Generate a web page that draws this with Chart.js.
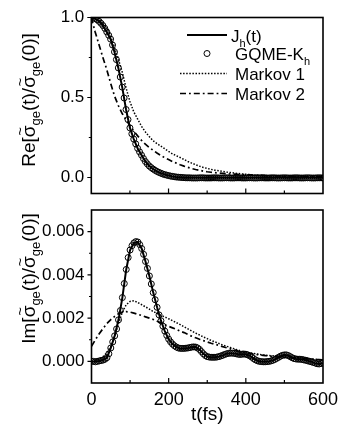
<!DOCTYPE html>
<html><head><meta charset="utf-8">
<script src="https://cdn.jsdelivr.net/npm/chart.js@4/dist/chart.umd.min.js"></script>
<style>
html,body{margin:0;padding:0;background:#fff;}
#top{position:absolute;left:0;top:0;width:339px;height:200px;}
#bot{position:absolute;left:0;top:200px;width:339px;height:227px;}
</style></head><body>
<div id="top"><canvas id="c1"></canvas></div>
<div id="bot"><canvas id="c2"></canvas></div>
<script>
// ---------- time grids (fs) ----------
const tLine = [0,10,20,30,40,50,60,70,80,90,100,110,120,130,140,150,160,170,180,190,200,
  210,220,230,240,250,260,270,280,290,300,310,320,330,340,350,360,370,380,390,400,
  410,420,430,440,450,460,470,480,490,500,510,520,530,540,550,560,570,580,590,600];
const tCirc = [0,5,10,15,20,25,30,35,40,45,50,55,60,65,70,75,80,85,90,95,
  100,105,110,115,120,125,130,135,140,145,150,155,160,165,170,175,180,185,190,195,
  200,205,210,215,220,225,230,235,240,245,250,255,260,265,270,275,280,285,290,295,
  300,305,310,315,320,325,330,335,340,345,350,355,360,365,370,375,380,385,390,395,
  400,405,410,415,420,425,430,435,440,445,450,455,460,465,470,475,480,485,490,495,
  500,505,510,515,520,525,530,535,540,545,550,555,560,565,570,575,580,585,590,595,600];

// ---------- upper panel: Re ----------
const reJh = [1.000,0.993,0.976,0.950,0.910,0.865,0.785,0.685,0.565,0.425,0.310,0.240,0.182,0.140,0.100,0.072,0.053,0.038,0.027,0.018,0.012,
  0.007,0.003,0.001,-0.001,-0.002,-0.002,-0.002,-0.002,-0.002,-0.002,
  -0.002,-0.002,-0.001,-0.001,-0.002,-0.002,-0.002,-0.001,-0.001,-0.002,
  -0.002,-0.002,-0.001,-0.001,-0.002,-0.002,-0.001,-0.001,-0.001,-0.002,
  -0.002,-0.001,-0.001,-0.001,-0.002,-0.002,-0.001,-0.001,-0.001,-0.002];
const reGqme = [1.000,0.998,0.993,0.986,0.976,0.964,0.950,0.932,0.910,0.889,
  0.865,0.828,0.785,0.737,0.685,0.628,0.565,0.497,0.425,0.362,
  0.310,0.273,0.240,0.210,0.182,0.160,0.140,0.119,0.100,0.085,
  0.072,0.062,0.053,0.045,0.038,0.032,0.027,0.022,0.018,0.015,
  0.012,0.009,0.007,0.005,0.003,0.002,0.001,0.000,-0.001,-0.002,
  -0.002,-0.002,-0.003,-0.003,-0.003,-0.003,-0.002,-0.002,-0.002,-0.003,
  -0.003,-0.003,-0.003,-0.002,-0.002,-0.002,-0.003,-0.003,-0.003,-0.002,
  -0.002,-0.002,-0.003,-0.003,-0.003,-0.002,-0.002,-0.002,-0.003,-0.003,
  -0.003,-0.002,-0.002,-0.002,-0.003,-0.003,-0.003,-0.002,-0.002,-0.002,
  -0.003,-0.003,-0.003,-0.002,-0.002,-0.002,-0.003,-0.003,-0.003,-0.002,
  -0.002,-0.002,-0.003,-0.003,-0.003,-0.002,-0.002,-0.002,-0.003,-0.003,
  -0.003,-0.002,-0.002,-0.002,-0.003,-0.003,-0.003,-0.002,-0.002,-0.002,-0.003];
const reMarkov1 = [1.000,0.995,0.983,0.963,0.935,0.885,0.815,0.740,0.660,0.560,0.475,0.410,0.365,0.320,0.285,0.256,0.230,0.212,0.196,0.180,0.163,
  0.148,0.136,0.125,0.113,0.100,0.090,0.080,0.071,0.063,0.057,
  0.051,0.046,0.042,0.038,0.034,0.031,0.028,0.025,0.022,0.020,
  0.018,0.016,0.014,0.013,0.012,0.011,0.010,0.009,0.008,0.007,
  0.006,0.006,0.005,0.005,0.004,0.004,0.004,0.003,0.003,0.003];
const reMarkov2 = [1.000,0.910,0.830,0.750,0.675,0.590,0.510,0.450,0.400,0.360,0.325,0.290,0.260,0.232,0.208,0.188,0.170,0.153,0.138,0.124,0.112,
  0.100,0.090,0.080,0.071,0.063,0.056,0.050,0.045,0.040,0.036,
  0.033,0.030,0.028,0.026,0.024,0.022,0.021,0.019,0.018,0.017,
  0.016,0.015,0.014,0.013,0.012,0.011,0.011,0.010,0.009,0.009,
  0.008,0.008,0.007,0.007,0.006,0.006,0.006,0.005,0.005,0.005];

// ---------- lower panel: Im ----------
const imJh = [0.00000,-0.00002,0.00002,0.00006,0.00017,0.00062,0.00118,0.00192,0.00295,0.00425,0.00515,0.00548,0.00552,0.00522,0.00462,0.00395,0.00318,0.00250,0.00188,0.00140,0.00103,
  0.00080,0.00066,0.00060,0.00060,0.00062,0.00066,0.00066,0.00055,0.00035,0.00022,
  0.00019,0.00019,0.00022,0.00028,0.00035,0.00038,0.00037,0.00033,0.00033,0.00033,
  0.00026,0.00013,0.00003,-0.00001,-0.00002,0.00000,0.00005,0.00014,0.00024,0.00030,
  0.00027,0.00017,0.00011,0.00010,0.00007,0.00003,-0.00002,-0.00008,-0.00012,-0.00008];
const imGqme = [0.00000,0.00000,-0.00002,0.00000,0.00002,0.00004,0.00006,0.00010,0.00017,0.00035,
  0.00062,0.00090,0.00118,0.00150,0.00192,0.00235,0.00295,0.00360,0.00425,0.00480,
  0.00515,0.00535,0.00548,0.00554,0.00552,0.00540,0.00522,0.00495,0.00462,0.00430,
  0.00395,0.00358,0.00318,0.00285,0.00250,0.00215,0.00188,0.00163,0.00140,0.00120,
  0.00103,0.00090,0.00080,0.00072,0.00066,0.00062,0.00060,0.00060,0.00060,0.00061,
  0.00062,0.00064,0.00066,0.00067,0.00066,0.00062,0.00055,0.00045,0.00035,0.00027,
  0.00022,0.00020,0.00019,0.00019,0.00019,0.00020,0.00022,0.00025,0.00028,0.00032,
  0.00035,0.00037,0.00038,0.00038,0.00037,0.00035,0.00033,0.00032,0.00033,0.00034,
  0.00033,0.00030,0.00026,0.00020,0.00013,0.00007,0.00003,0.00000,-0.00001,-0.00002,
  -0.00002,-0.00001,0.00000,0.00002,0.00005,0.00009,0.00014,0.00019,0.00024,0.00028,
  0.00030,0.00030,0.00027,0.00022,0.00017,0.00013,0.00011,0.00010,0.00010,0.00009,
  0.00007,0.00005,0.00003,0.00000,-0.00002,-0.00005,-0.00008,-0.00011,-0.00012,-0.00010,
  -0.00008];
const imMarkov1 = [0.00000,0.00003,0.00010,0.00022,0.00040,0.00068,0.00115,0.00175,0.00228,0.00262,0.00277,0.00280,0.00272,0.00262,0.00252,0.00242,0.00230,0.00222,0.00213,0.00205,0.00197,
  0.00188,0.00179,0.00170,0.00160,0.00150,0.00140,0.00131,0.00122,0.00113,0.00105,
  0.00097,0.00090,0.00083,0.00076,0.00070,0.00064,0.00058,0.00052,0.00047,0.00043,
  0.00040,0.00037,0.00034,0.00031,0.00029,0.00027,0.00026,0.00025,0.00024,0.00023,
  0.00022,0.00020,0.00019,0.00017,0.00015,0.00013,0.00011,0.00010,0.00008,0.00007];
const imMarkov2 = [0.00070,0.00100,0.00128,0.00152,0.00175,0.00193,0.00208,0.00220,0.00228,0.00230,0.00228,0.00223,0.00218,0.00212,0.00206,0.00200,0.00194,0.00186,0.00178,0.00170,0.00162,
  0.00155,0.00148,0.00140,0.00133,0.00124,0.00116,0.00109,0.00102,0.00096,0.00090,
  0.00084,0.00079,0.00074,0.00068,0.00063,0.00058,0.00053,0.00048,0.00044,0.00040,
  0.00037,0.00034,0.00031,0.00029,0.00027,0.00025,0.00023,0.00021,0.00020,0.00018,
  0.00017,0.00015,0.00014,0.00013,0.00012,0.00011,0.00010,0.00009,0.00008,0.00007];

// ---------- ticks ----------
const xTickValues = [0,200,400,600];
const xTickLabels = ['0','200','400','600'];
const xMinorValues = [100,300,500];
const reTickValues = [0,0.5,1.0];
const reTickLabels = ['0.0','0.5','1.0'];
const reMinorValues = [0.25,0.75];
const imTickValues = [0,0.002,0.004,0.006];
const imTickLabels = ['0.000','0.002','0.004','0.006'];
const imMinorValues = [0.001,0.003,0.005];

const FONT = '"Liberation Sans", Arial, Helvetica, sans-serif';
const pts = (t, v) => t.map((x, i) => ({x: x, y: v[i]}));

const STY = {
  jh: {borderColor:'#000', borderWidth:2, borderDash:[]},
  m1: {borderColor:'#000', borderWidth:1.5, borderDash:[1.5,1.6]},
  m2: {borderColor:'#000', borderWidth:1.7, borderDash:[6,3,1.8,3]}
};

function datasets(J, G, M1, M2) {
  return [
    {label:'GQME-K_h', data:pts(tCirc, G), showLine:false, pointRadius:3, pointHoverRadius:3,
     pointBorderWidth:1, pointBorderColor:'#000', pointBackgroundColor:'rgba(0,0,0,0)', borderColor:'#000'},
    Object.assign({label:'J_h(t)', data:pts(tLine, J), pointRadius:0, fill:false, tension:0}, STY.jh),
    Object.assign({label:'Markov 1', data:pts(tLine, M1), pointRadius:0, fill:false, tension:0}, STY.m1),
    Object.assign({label:'Markov 2', data:pts(tLine, M2), pointRadius:0, fill:false, tension:0}, STY.m2)
  ];
}

function rich(ctx, x, y, parts, size, subSize, subShift, align) {
  let w = 0;
  parts.forEach(p => { ctx.font = (p.sub ? subSize : size) + 'px ' + FONT; p.w = ctx.measureText(p.t).width; w += p.w; });
  let cx = align === 'center' ? x - w / 2 : x;
  ctx.textAlign = 'left';
  ctx.textBaseline = 'alphabetic';
  parts.forEach(p => {
    ctx.font = (p.sub ? subSize : size) + 'px ' + FONT;
    ctx.fillText(p.t, cx, p.sub ? y + subShift : y);
    if (p.tilde) {
      ctx.font = Math.round(size * 0.8) + 'px ' + FONT;
      const tw = ctx.measureText('~').width;
      ctx.fillText('~', cx + p.w / 2 - tw / 2, y - size * 0.52);
    }
    cx += p.w;
  });
}

function titleParts(prefix) {
  return [{t: prefix + '['}, {t:'σ', tilde:true}, {t:'ge', sub:true}, {t:'(t)/'},
          {t:'σ', tilde:true}, {t:'ge', sub:true}, {t:'(0)]'}];
}

function sampleLine(ctx, x1, x2, y, s) {
  ctx.save();
  ctx.strokeStyle = s.borderColor; ctx.lineWidth = s.borderWidth; ctx.setLineDash(s.borderDash);
  ctx.beginPath(); ctx.moveTo(x1, y); ctx.lineTo(x2, y); ctx.stroke();
  ctx.restore();
}

const decor = {
  id: 'decor',
  afterDatasetsDraw(chart, args, o) {
    const ctx = chart.ctx, a = chart.chartArea, xs = chart.scales.x, ys = chart.scales.y;
    ctx.save();
    ctx.strokeStyle = '#000';
    ctx.lineWidth = 1.6;
    ctx.strokeRect(a.left, a.top, a.right - a.left, a.bottom - a.top);
    ctx.lineWidth = 1.2;
    ctx.beginPath();
    xTickValues.forEach(v => { if (v <= 0 || v >= 600) return; const p = xs.getPixelForValue(v); ctx.moveTo(p, a.bottom); ctx.lineTo(p, a.bottom - 5); });
    xMinorValues.forEach(v => { const p = xs.getPixelForValue(v); ctx.moveTo(p, a.bottom); ctx.lineTo(p, a.bottom - 3); });
    o.yMajor.forEach(v => { const p = ys.getPixelForValue(v); ctx.moveTo(a.left, p); ctx.lineTo(a.left - 4, p); });
    o.yMinor.forEach(v => { const p = ys.getPixelForValue(v); ctx.moveTo(a.left, p); ctx.lineTo(a.left - 2.5, p); });
    ctx.stroke();

    ctx.fillStyle = '#000';
    ctx.save();
    ctx.translate(o.titleX, o.titleY);
    ctx.rotate(-Math.PI / 2);
    rich(ctx, 0, 6.5, titleParts(o.prefix), 19, 13, 5, 'center');
    ctx.restore();

    if (o.xTitle) {
      ctx.font = '19px ' + FONT;
      ctx.textAlign = 'center'; ctx.textBaseline = 'middle';
      ctx.fillText('t(fs)', (a.left + a.right) / 2, o.xTitleY);
    }
    if (o.legend) {
      sampleLine(ctx, 187, 227, 35, STY.jh);
      rich(ctx, 231, 42, [{t:'J'}, {t:'h', sub:true}, {t:'(t)'}], 17, 11, 5, 'left');
      ctx.beginPath(); ctx.lineWidth = 1; ctx.strokeStyle = '#000'; ctx.setLineDash([]);
      ctx.arc(207, 53.5, 3, 0, Math.PI * 2); ctx.stroke();
      rich(ctx, 235, 60, [{t:'GQME-K'}, {t:'h', sub:true}], 17, 11, 5, 'left');
      sampleLine(ctx, 180, 227, 73.5, STY.m1);
      rich(ctx, 235, 80, [{t:'Markov 1'}], 17, 11, 5, 'left');
      sampleLine(ctx, 180, 227, 93.5, STY.m2);
      rich(ctx, 235, 100, [{t:'Markov 2'}], 17, 11, 5, 'left');
    }
    ctx.restore();
  }
};

function zeroPad(s) { s.paddingTop = 0; s.paddingBottom = 0; s.paddingLeft = 0; s.paddingRight = 0; }

function makeChart(id, cfg) {
  const chart = new Chart(document.getElementById(id), {
    type: 'line',
    data: {datasets: cfg.ds},
    options: {
      responsive: true, maintainAspectRatio: false, animation: false, devicePixelRatio: 1,
      layout: {padding: Object.assign({}, cfg.want.pad)},
      plugins: {legend: {display:false}, tooltip: {enabled:false}, decor: cfg.decor},
      events: [],
      scales: {
        x: {
          type: 'linear', min: 0, max: 600,
          grid: {display:false, drawTicks:false}, border: {display:false},
          afterBuildTicks: s => { s.ticks = xTickValues.map(v => ({value:v})); },
          ticks: {display: cfg.xLabels, padding: 6, maxRotation: 0, autoSkip: false,
                  color: '#000', font: {family: FONT, size: 18},
                  callback: (v) => xTickLabels[xTickValues.indexOf(v)]},
          afterFit: s => { s.height = cfg.xHeight; zeroPad(s); }
        },
        y: {
          type: 'linear', min: cfg.ymin, max: cfg.ymax,
          grid: {display:false, drawTicks:false}, border: {display:false},
          afterBuildTicks: s => { s.ticks = cfg.yVals.map(v => ({value:v})); },
          ticks: {padding: 7, autoSkip: false, color: '#000', font: {family: FONT, size: 17},
                  callback: (v) => { const i = cfg.yVals.findIndex(q => Math.abs(q - v) < 1e-9); return i >= 0 ? cfg.yLabs[i] : ''; }},
          afterFit: s => { s.width = cfg.yWidth; zeroPad(s); }
        }
      }
    },
    plugins: [decor]
  });
  // pin the plot area to the wanted pixel box
  const W = cfg.want;
  for (let k = 0; k < 3; k++) {
    const a = chart.chartArea, p = chart.options.layout.padding;
    p.top += W.top - a.top;
    p.bottom += a.bottom - W.bottom;
    p.left += W.left - a.left;
    p.right += a.right - W.right;
    chart.update('none');
  }
  return chart;
}

makeChart('c1', {
  ds: datasets(reJh, reGqme, reMarkov1, reMarkov2),
  want: {pad: {left:0, right:16, top:17.5, bottom:6.5}, left: 91.3, right: 323, top: 17.5, bottom: 193.5},
  xLabels: false, xHeight: 0, ymin: -0.1, ymax: 1.0,
  yVals: reTickValues, yLabs: reTickLabels, yWidth: 91.3,
  decor: {yMajor: reTickValues, yMinor: reMinorValues, prefix: 'Re', titleX: 28, titleY: 100, legend: true, xTitle: false}
});
makeChart('c2', {
  ds: datasets(imJh, imGqme, imMarkov1, imMarkov2),
  want: {pad: {left:0, right:16, top:10, bottom:0}, left: 91.5, right: 323, top: 10, bottom: 183},
  xLabels: true, xHeight: 44, ymin: -0.001, ymax: 0.007,
  yVals: imTickValues, yLabs: imTickLabels, yWidth: 91.5,
  decor: {yMajor: imTickValues, yMinor: imMinorValues, prefix: 'Im', titleX: 28, titleY: 78.5, legend: false, xTitle: true, xTitleY: 215}
});
</script>
</body></html>
